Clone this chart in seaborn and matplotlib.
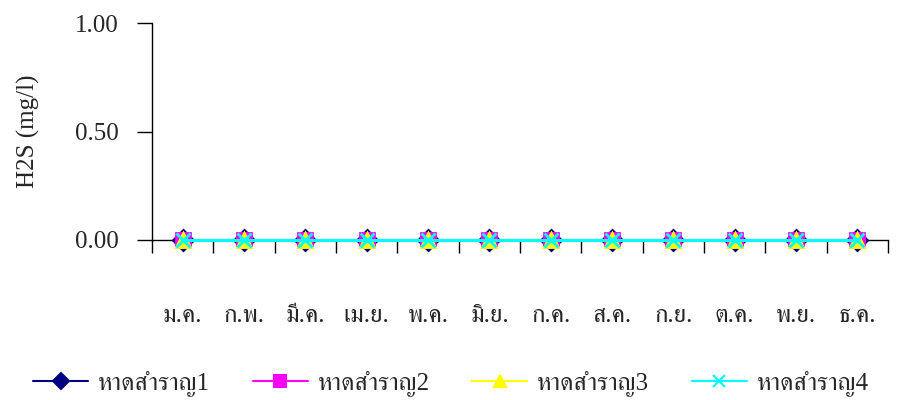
import numpy as np
import pandas as pd
import matplotlib
matplotlib.use("Agg")
import matplotlib.pyplot as plt
from matplotlib import font_manager
from matplotlib.lines import Line2D
import seaborn as sns
from fontTools.ttLib import TTFont

# Monthly labels (Thai month abbreviations)
months = ['ม.ค.', 'ก.พ.', 'มี.ค.', 'เม.ย.', 'พ.ค.', 'มิ.ย.',
          'ก.ค.', 'ส.ค.', 'ก.ย.', 'ต.ค.', 'พ.ย.', 'ธ.ค.']

# Sampling stations
stations = ['หาดสำราญ1', 'หาดสำราญ2', 'หาดสำราญ3', 'หาดสำราญ4']

# H2S (mg/l) per station and month
h2s_1 = [0.0, 0.0, 0.0, 0.0, 0.0, 0.0, 0.0, 0.0, 0.0, 0.0, 0.0, 0.0]
h2s_2 = [0.0, 0.0, 0.0, 0.0, 0.0, 0.0, 0.0, 0.0, 0.0, 0.0, 0.0, 0.0]
h2s_3 = [0.0, 0.0, 0.0, 0.0, 0.0, 0.0, 0.0, 0.0, 0.0, 0.0, 0.0, 0.0]
h2s_4 = [0.0, 0.0, 0.0, 0.0, 0.0, 0.0, 0.0, 0.0, 0.0, 0.0, 0.0, 0.0]

y_ticks = [0.0, 0.5, 1.0]
y_tick_labels = ['0.00', '0.50', '1.00']
y_label = 'H2S (mg/l)'

colors = ['#000080', '#FF00FF', '#FFFF00', '#00FFFF']
markers = ['D', 's', '^', 'x']

FS = 18


def thai_families():
    """Return installed families that can draw Thai script, serif first."""
    found = []
    for fe in font_manager.fontManager.ttflist:
        if fe.name in found:
            continue
        try:
            f = TTFont(fe.fname, fontNumber=0, lazy=True)
            cmap = f.getBestCmap() or {}
            if 0x0E2B in cmap and 0x0E33 in cmap:
                found.append(fe.name)
        except Exception:
            pass
    found.sort(key=lambda n: (0 if 'Serif' in n else 1, n))
    return found


sns.set_theme(style="white")
families = ['Liberation Serif'] + thai_families() + ['DejaVu Sans']
plt.rcParams['font.family'] = families

series = [h2s_1, h2s_2, h2s_3, h2s_4]
df = pd.DataFrame({
    'pos': np.tile(np.arange(len(months)), len(stations)),
    'station': np.repeat(stations, len(months)),
    'value': np.concatenate(series),
})

fig = plt.figure(figsize=(9.02, 4.0), dpi=100)
ax = fig.add_axes([152 / 902, 1 - 240 / 400, (888 - 152) / 902, (240 - 23) / 400])

for st, c, m in zip(stations, colors, markers):
    sub = df[df['station'] == st]
    sns.lineplot(data=sub, x='pos', y='value', color=c, marker=m, ax=ax,
                 linewidth=2.2, markersize=10, markeredgewidth=2,
                 markerfacecolor=c, markeredgecolor=c, legend=False)

# series sit above the axis spines, last station on top
for i, ln in enumerate(ax.lines):
    ln.set_clip_on(False)
    ln.set_zorder(3 + i)

ax.set_xlim(-0.5, len(months) - 0.5)
ax.set_ylim(0, 1)
ax.set_yticks(y_ticks)
ax.set_yticklabels(y_tick_labels)
ax.set_xticks(np.arange(len(months)))
ax.set_xticklabels(months)
ax.set_xticks(np.arange(len(months) + 1) - 0.5, minor=True)
ax.tick_params(axis='x', which='major', length=0, pad=47, labelsize=FS)
ax.tick_params(axis='x', which='minor', length=9.4, width=1, color='black',
               direction='out', bottom=True)
ax.tick_params(axis='y', length=10.8, width=1, color='black', direction='out',
               left=True, labelsize=FS, pad=13.5)
ax.set_ylabel(y_label, fontsize=FS, labelpad=25)
ax.set_xlabel('')

for s in ['top', 'right']:
    ax.spines[s].set_visible(False)
for s in ['left', 'bottom']:
    ax.spines[s].set_color('black')
    ax.spines[s].set_linewidth(1)

handles = [Line2D([0], [0], color=c, marker=m, markersize=8, linewidth=1.5,
                  markerfacecolor=c, markeredgecolor=c, markeredgewidth=1.5)
           for c, m in zip(colors, markers)]
fig.legend(handles, stations, loc='center', bbox_to_anchor=(0.5, 1 - 384 / 400),
           ncol=4, frameon=False, fontsize=FS, handlelength=2.2,
           columnspacing=1.7, handletextpad=0.4)

fig.savefig('out.png', dpi=100, facecolor='white')
